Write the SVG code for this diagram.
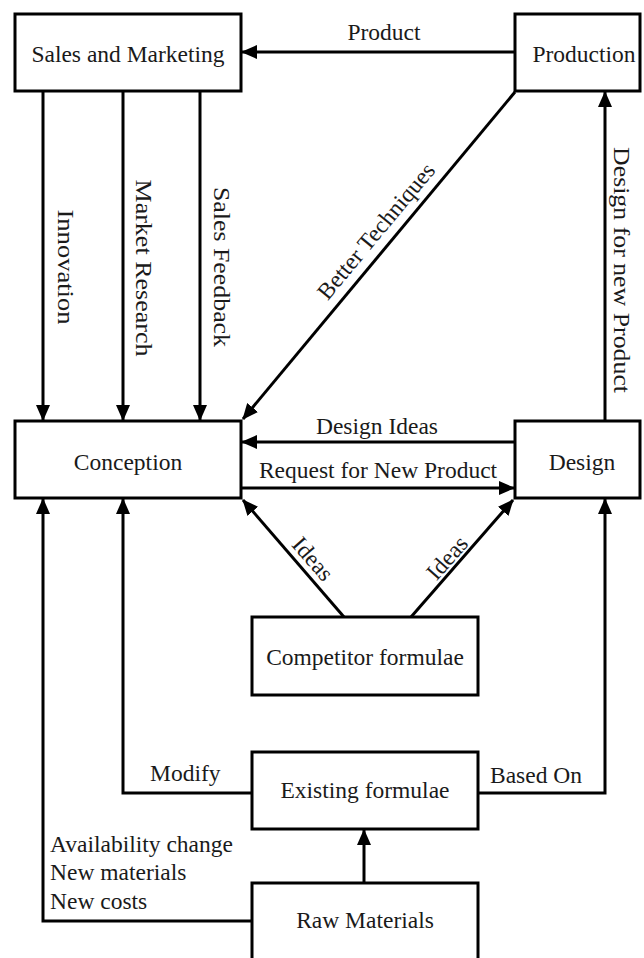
<svg xmlns="http://www.w3.org/2000/svg" width="644" height="958" viewBox="0 0 644 958">
<style>
  .box { fill: #ffffff; stroke: #000000; stroke-width: 3; }
  .lbl { font-family: "Liberation Serif", "Times New Roman", serif; font-size: 23.5px; fill: #1a1a1a; }
  .mid { text-anchor: middle; }
  .conn { fill: none; stroke: #000000; stroke-width: 3; }
  .arr { marker-end: url(#ah); }
</style>
<defs>
  <marker id="ah" markerUnits="userSpaceOnUse" markerWidth="16" markerHeight="14" refX="15" refY="7" orient="auto">
    <path d="M0,0 L16,7 L0,14 Z" fill="#000000"/>
  </marker>
</defs>
<rect width="644" height="958" fill="#ffffff"/>

<g id="connectors">
  <line class="conn arr" x1="515" y1="52" x2="242" y2="52"/>
  <text class="lbl mid" x="384" y="40">Product</text>

  <line class="conn arr" x1="43" y1="91" x2="43" y2="420"/>
  <line class="conn arr" x1="123" y1="91" x2="123" y2="420"/>
  <line class="conn arr" x1="200" y1="91" x2="200" y2="420"/>
  <text class="lbl mid" transform="translate(58,267) rotate(90)" textLength="115" lengthAdjust="spacingAndGlyphs">Innovation</text>
  <text class="lbl mid" transform="translate(136,268) rotate(90)" textLength="177" lengthAdjust="spacingAndGlyphs">Market Research</text>
  <text class="lbl mid" transform="translate(214,267) rotate(90)" textLength="160" lengthAdjust="spacingAndGlyphs">Sales Feedback</text>

  <line class="conn arr" x1="515" y1="92" x2="243" y2="419"/>
  <text class="lbl mid" transform="translate(382,236) rotate(-50.2)">Better Techniques</text>

  <line class="conn arr" x1="605" y1="421" x2="605" y2="92"/>
  <text class="lbl mid" transform="translate(614,270) rotate(90)" textLength="246" lengthAdjust="spacingAndGlyphs">Design for new Product</text>

  <line class="conn arr" x1="515" y1="442" x2="242" y2="442"/>
  <text class="lbl mid" x="377" y="434">Design Ideas</text>
  <line class="conn arr" x1="241" y1="488" x2="514" y2="488"/>
  <text class="lbl mid" x="378" y="478">Request for New Product</text>

  <line class="conn arr" x1="344" y1="617" x2="243" y2="500"/>
  <text class="lbl mid" transform="translate(307,564) rotate(48.8)">Ideas</text>
  <line class="conn arr" x1="411" y1="617" x2="513" y2="500"/>
  <text class="lbl mid" transform="translate(453,563) rotate(-48.6)">Ideas</text>

  <path class="conn arr" d="M252,793 H123 V499"/>
  <text class="lbl" x="150" y="781">Modify</text>
  <path class="conn arr" d="M478,793 H605 V499"/>
  <text class="lbl" x="490" y="783">Based On</text>

  <line class="conn arr" x1="364" y1="883" x2="364" y2="830"/>

  <path class="conn arr" d="M252,921 H43 V499"/>
  <text class="lbl" x="50" y="852">Availability change</text>
  <text class="lbl" x="50" y="880">New materials</text>
  <text class="lbl" x="50" y="909">New costs</text>
</g>

<g id="sales">
  <rect class="box" x="15" y="14" width="226" height="77"/>
  <text class="lbl mid" x="128" y="62">Sales and Marketing</text>
</g>
<g id="production">
  <rect class="box" x="515" y="14" width="125" height="77"/>
  <text class="lbl mid" x="584" y="62">Production</text>
</g>
<g id="conception">
  <rect class="box" x="15" y="421" width="226" height="77"/>
  <text class="lbl mid" x="128" y="470">Conception</text>
</g>
<g id="design">
  <rect class="box" x="515" y="421" width="125" height="77"/>
  <text class="lbl mid" x="582" y="470">Design</text>
</g>
<g id="competitor">
  <rect class="box" x="252" y="617" width="226" height="78"/>
  <text class="lbl mid" x="365" y="665">Competitor formulae</text>
</g>
<g id="existing">
  <rect class="box" x="252" y="752" width="226" height="77"/>
  <text class="lbl mid" x="365" y="798">Existing formulae</text>
</g>
<g id="raw">
  <rect class="box" x="252" y="883" width="226" height="90"/>
  <text class="lbl mid" x="365" y="928">Raw Materials</text>
</g>
</svg>
